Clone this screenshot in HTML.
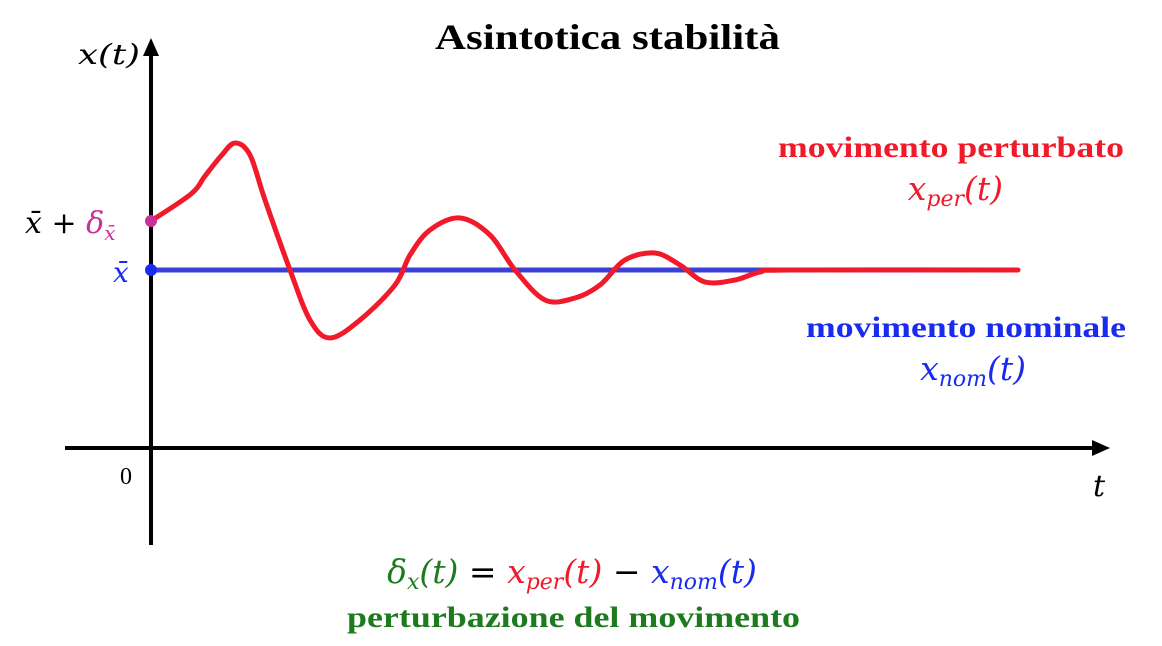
<!DOCTYPE html>
<html><head><meta charset="utf-8"><style>
body{margin:0;background:#fff;}
svg{display:block;}
.m{font-family:"DejaVu Serif","Liberation Serif",serif;font-style:italic;}
.b{font-family:"Liberation Serif",serif;font-weight:bold;}
</style></head><body>
<svg id="chart" width="1162" height="646" viewBox="0 0 1162 646" xmlns="http://www.w3.org/2000/svg">
<text class="b" x="435" y="49" font-size="36" textLength="345" lengthAdjust="spacingAndGlyphs">Asintotica stabilità</text>
<g>
<line x1="65" y1="448" x2="1098" y2="448" stroke="#000" stroke-width="4"/>
<polygon points="1110,448 1092,440 1092,456" fill="#000"/>
</g>
<g>
<line x1="151" y1="545" x2="151" y2="52" stroke="#000" stroke-width="4"/>
<polygon points="151,38 143,56 159,56" fill="#000"/>
</g>
<text class="m" x="78" y="64" font-size="28" textLength="62" lengthAdjust="spacingAndGlyphs">x(t)</text>
<text class="m" x="1093" y="496" font-size="30">t</text>
<text font-family="Liberation Serif" x="120" y="484" font-size="24">0</text>
<text class="m" x="25" y="233" font-size="30">x̄ + <tspan fill="#c8309a">δ<tspan font-size="20" dy="7">x̄</tspan></tspan></text>
<text class="m" x="113" y="282" font-size="28" fill="#1a2bf0">x̄</text>
<g id="series"></g>
<text class="b" x="778" y="157" font-size="30" fill="#f01a2a" textLength="346" lengthAdjust="spacingAndGlyphs">movimento perturbato</text>
<text class="m" x="1003" y="200" font-size="33" fill="#f01a2a" text-anchor="end">x<tspan font-size="22" dy="6">per</tspan><tspan dy="-6">(t)</tspan></text>
<text class="b" x="806" y="337" font-size="30" fill="#1a2bf0" textLength="320" lengthAdjust="spacingAndGlyphs">movimento nominale</text>
<text class="m" x="1026" y="380" font-size="33" fill="#1a2bf0" text-anchor="end">x<tspan font-size="22" dy="6">nom</tspan><tspan dy="-6">(t)</tspan></text>
<text class="m" x="572" y="583" font-size="33" text-anchor="middle"><tspan fill="#1e7a1e">δ<tspan font-size="22" dy="6">x</tspan><tspan dy="-6">(t)</tspan></tspan> = <tspan fill="#f01a2a">x<tspan font-size="22" dy="6">per</tspan><tspan dy="-6">(t)</tspan></tspan> − <tspan fill="#1a2bf0">x<tspan font-size="22" dy="6">nom</tspan><tspan dy="-6">(t)</tspan></tspan></text>
<text class="b" x="347" y="627" font-size="30" fill="#1e7a1e" textLength="453" lengthAdjust="spacingAndGlyphs">perturbazione del movimento</text>
</svg>
<script>
const times=[0,4,5.4,7,8.4,9.9,11.4,13.9,15.9,17.9,20.9,24.4,25.9,27.9,30.9,33.9,36.4,39.4,42.4,44.9,47.4,50.4,52.9,55.4,58.4,60.9,63.9,86.7];
const perturbed=[4.9,7.6,9.4,11.4,12.7,11.5,7,0,-5,-6.8,-5,-1.5,1.5,4,5.2,3.5,0,-3,-2.8,-1.5,1,1.7,0.5,-1.2,-1,-0.2,0,0];
const nominalT=[0,86.7];
const nominal=[0,0];
const X=t=>151+t*10, Y=v=>270-v*10;
const ns="http://www.w3.org/2000/svg",g=document.getElementById('series');
function path(ts,vs){
 const p=ts.map((t,i)=>[X(t),Y(vs[i])]);
 let d="M"+p[0][0]+","+p[0][1];
 for(let i=0;i<p.length-1;i++){
  const p0=p[i-1]||p[i],p1=p[i],p2=p[i+1],p3=p[i+2]||p2;
  d+=" C"+(p1[0]+(p2[0]-p0[0])/6)+","+(p1[1]+(p2[1]-p0[1])/6)+" "+(p2[0]-(p3[0]-p1[0])/6)+","+(p2[1]-(p3[1]-p1[1])/6)+" "+p2[0]+","+p2[1];
 }
 return d;
}
const nl=document.createElementNS(ns,'path');
nl.setAttribute('d',path(nominalT,nominal));
nl.setAttribute('stroke','#3a3fd8');nl.setAttribute('stroke-width','5');nl.setAttribute('fill','none');


g.appendChild(nl);
const pl=document.createElementNS(ns,'path');
pl.setAttribute('d',path(times,perturbed));
pl.setAttribute('stroke','#f01a2a');pl.setAttribute('stroke-width','5');pl.setAttribute('fill','none');pl.setAttribute('stroke-linecap','round');


g.appendChild(pl);
const c1=document.createElementNS(ns,'circle');
c1.setAttribute('cx',X(times[0]));c1.setAttribute('cy',Y(perturbed[0]));c1.setAttribute('r','6');c1.setAttribute('fill','#c8309a');


g.appendChild(c1);
const c2=document.createElementNS(ns,'circle');
c2.setAttribute('cx',X(nominalT[0]));c2.setAttribute('cy',Y(nominal[0]));c2.setAttribute('r','6');c2.setAttribute('fill','#1a2bf0');


g.appendChild(c2);
</script>
</body></html>
